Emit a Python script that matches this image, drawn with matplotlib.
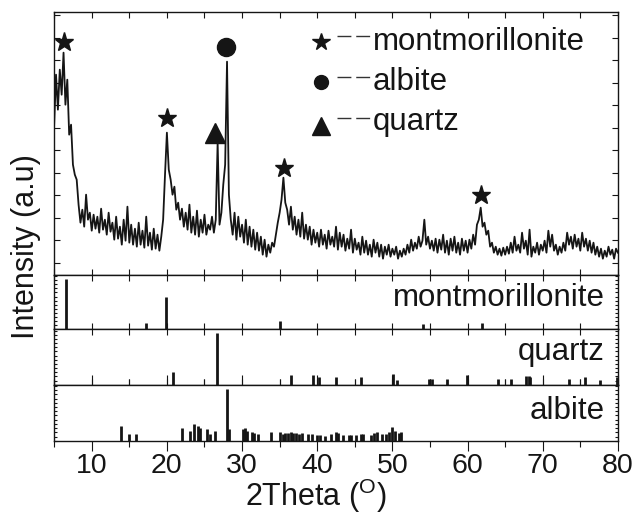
import numpy as np
import matplotlib.pyplot as plt
from matplotlib.ticker import MultipleLocator

plt.rcParams['font.family'] = ['Liberation Sans', 'DejaVu Sans']
plt.rcParams['mathtext.fontset'] = 'custom'
plt.rcParams['mathtext.rm'] = 'Liberation Sans'

# measured pattern, 5-80 deg, 0.25 deg steps (one row = 5 deg)
theta_start, theta_end = 5.0, 80.0
intensity = [
    150, 200, 165, 205, 180, 222, 170, 195, 140, 150, 110, 100, 95, 70, 52, 65, 48, 80, 55, 62,
    44, 60, 46, 58, 42, 66, 45, 55, 40, 62, 43, 52, 35, 58, 36, 48, 30, 55, 34, 68,
    32, 50, 30, 46, 28, 52, 30, 44, 27, 58, 29, 42, 25, 46, 26, 40, 24, 38, 55, 100,
    142, 105, 95, 80, 88, 65, 72, 55, 66, 48, 62, 45, 70, 42, 58, 40, 64, 38, 55, 42,
    60, 40, 50, 45, 58, 42, 55, 132, 50, 62, 90, 110, 213, 80, 55, 40, 62, 35, 58, 38,
    50, 32, 55, 30, 48, 28, 45, 25, 42, 24, 38, 20, 35, 18, 30, 22, 32, 28, 40, 52,
    62, 75, 97, 72, 65, 50, 68, 45, 58, 40, 55, 38, 62, 36, 50, 35, 48, 30, 45, 32,
    42, 28, 45, 30, 40, 26, 44, 30, 38, 28, 48, 25, 42, 28, 40, 24, 36, 26, 45, 22,
    36, 25, 32, 20, 38, 22, 34, 20, 30, 18, 35, 22, 32, 18, 30, 16, 28, 20, 30, 18,
    26, 20, 28, 16, 24, 18, 26, 20, 30, 22, 35, 24, 32, 26, 38, 28, 34, 55, 30, 38,
    26, 34, 24, 36, 22, 35, 25, 40, 22, 34, 20, 36, 24, 38, 22, 32, 20, 36, 24, 34,
    22, 35, 26, 40, 30, 50, 55, 67, 48, 52, 40, 44, 28, 32, 22, 28, 20, 26, 19, 27,
    20, 28, 21, 32, 22, 38, 24, 30, 22, 42, 26, 34, 20, 45, 18, 28, 22, 32, 20, 30,
    24, 34, 22, 44, 28, 40, 24, 30, 20, 28, 22, 32, 24, 42, 30, 38, 26, 40, 28, 36,
    24, 42, 28, 36, 24, 34, 22, 32, 20, 28, 18, 26, 16, 24, 18, 28, 20, 25, 16, 26,
    22,
]

# reference patterns (2theta, relative intensity)
mont_pos = [6.6, 17.2, 19.9, 35.0, 54.1, 61.9]
mont_int = [92, 12, 59, 16, 9, 12]

quartz_pos = [20.86, 26.64, 36.54, 39.47, 40.29, 42.45, 45.79, 50.14, 50.62, 54.87, 55.33,
              57.24, 59.96, 63.99, 65.79, 67.74, 68.14, 68.31, 73.47, 75.64, 77.67, 79.88]
quartz_int = [23, 93, 18, 18, 13, 14, 13, 20, 9, 11, 11,
              11, 18, 11, 11, 16, 16, 14, 11, 13, 9, 13]

albite_pos = [13.87, 15.0, 15.9, 22.04, 23.1, 23.6, 24.2, 24.4, 25.4, 25.8, 26.4, 27.95,
              28.3, 30.1, 30.4, 30.6, 31.3, 31.6, 32.1, 33.9, 35.0, 35.4, 35.7, 36.1,
              36.5, 36.8, 37.2, 37.6, 38.0, 38.8, 39.3, 40.0, 40.4, 41.0, 41.8, 42.5,
              42.7, 43.4, 44.2, 44.5, 45.2, 45.8, 46.1, 47.1, 47.5, 47.9, 48.6, 49.2,
              49.6, 49.9, 50.3, 50.9, 51.2]
albite_int = [27, 12, 12, 23, 18, 30, 27, 23, 20, 12, 18, 92,
              20, 20, 23, 18, 16, 14, 12, 16, 16, 12, 14, 14,
              16, 14, 14, 12, 14, 12, 12, 11, 11, 9, 12, 16,
              14, 11, 11, 11, 11, 12, 12, 11, 14, 16, 12, 12,
              16, 25, 18, 14, 16]

# peak symbols on the pattern
star_pos = [6.33, 19.99, 35.63, 61.78]
star_y = [233, 157, 107, 80]
tri_pos, tri_y = 26.45, 142
circ_pos, circ_y = 27.87, 228

theta = np.linspace(theta_start, theta_end, len(intensity))
ink = '#151515'

fig = plt.figure(figsize=(6.37, 5.14), dpi=100)
left, width = 0.085, 0.885
ax0 = fig.add_axes([left, 0.4656, width, 0.5117])
ax1 = fig.add_axes([left, 0.3593, width, 0.1063])
ax2 = fig.add_axes([left, 0.2516, width, 0.1077])
ax3 = fig.add_axes([left, 0.1426, width, 0.1090])

ax0.plot(theta, intensity, color=ink, lw=1.3)
ax0.set_ylim(0, 263)
ax0.set_yticks(np.arange(12, 263, 22.5))

ax0.plot(star_pos, star_y, ls='none', marker='*', ms=14, color=ink)
ax0.plot(tri_pos, tri_y, ls='none', marker='^', ms=14, color=ink)
ax0.plot(circ_pos, circ_y, ls='none', marker='o', ms=13, color=ink)

# legend drawn by hand like the original
leg = [('*', 13, 233, 239, 225, 'montmorillonite'),
       ('o', 10, 193, 198, 185, 'albite'),
       ('^', 13, 149, 157, 145, 'quartz')]
for mk, ms, my, dy, ty, name in leg:
    ax0.plot(40.5, my, ls='none', marker=mk, ms=ms, color=ink)
    ax0.plot([42.6, 47.3], [dy, dy], color='#333333', lw=1.0, dashes=[10, 3.5])
    ax0.text(47.4, ty, name, fontsize=22.5, ha='left', va='baseline', color=ink)

for ax, pos, h, name, by in [(ax1, mont_pos, mont_int, 'montmorillonite', 0.432),
                             (ax2, quartz_pos, quartz_int, 'quartz', 0.446),
                             (ax3, albite_pos, albite_int, 'albite', 0.382)]:
    ax.vlines(pos, 0, h, color=ink, lw=2)
    ax.set_ylim(0, 100)
    ax.yaxis.set_major_locator(MultipleLocator(7.5))
    ax.tick_params(axis='y', length=2)
    ax.text(0.977, by, name, transform=ax.transAxes, fontsize=22.5,
            ha='right', va='baseline', color=ink)

for ax in (ax0, ax1, ax2, ax3):
    ax.set_xlim(5, 80)
    ax.xaxis.set_major_locator(MultipleLocator(10))
    ax.xaxis.set_minor_locator(MultipleLocator(5))
    ax.tick_params(which='both', direction='in', top=True, bottom=True,
                   left=True, right=True, labelleft=False, labelbottom=False,
                   width=0.8, color=ink)
    ax.tick_params(axis='x', which='major', length=4)
    ax.tick_params(axis='x', which='minor', length=4)
    if ax is ax0:
        ax.tick_params(axis='y', length=4)
    for sp in ax.spines.values():
        sp.set_linewidth(1.0)
        sp.set_color(ink)

ax3.tick_params(axis='x', which='both', direction='out', labelbottom=True,
                labelsize=20.5, pad=2, labelcolor=ink)
ax3.tick_params(axis='x', which='major', length=7)
ax3.tick_params(axis='x', which='minor', length=4)

fig.text(0.041, 0.52, 'Intensity (a.u)', rotation=90, ha='center', va='center',
         fontsize=22, color=ink)
fig.text(316 / 637, 0.035, '2Theta ($^{\\mathrm{O}}$)', ha='center', va='center',
         fontsize=22, color=ink)

fig.savefig('out.png', dpi=100)
